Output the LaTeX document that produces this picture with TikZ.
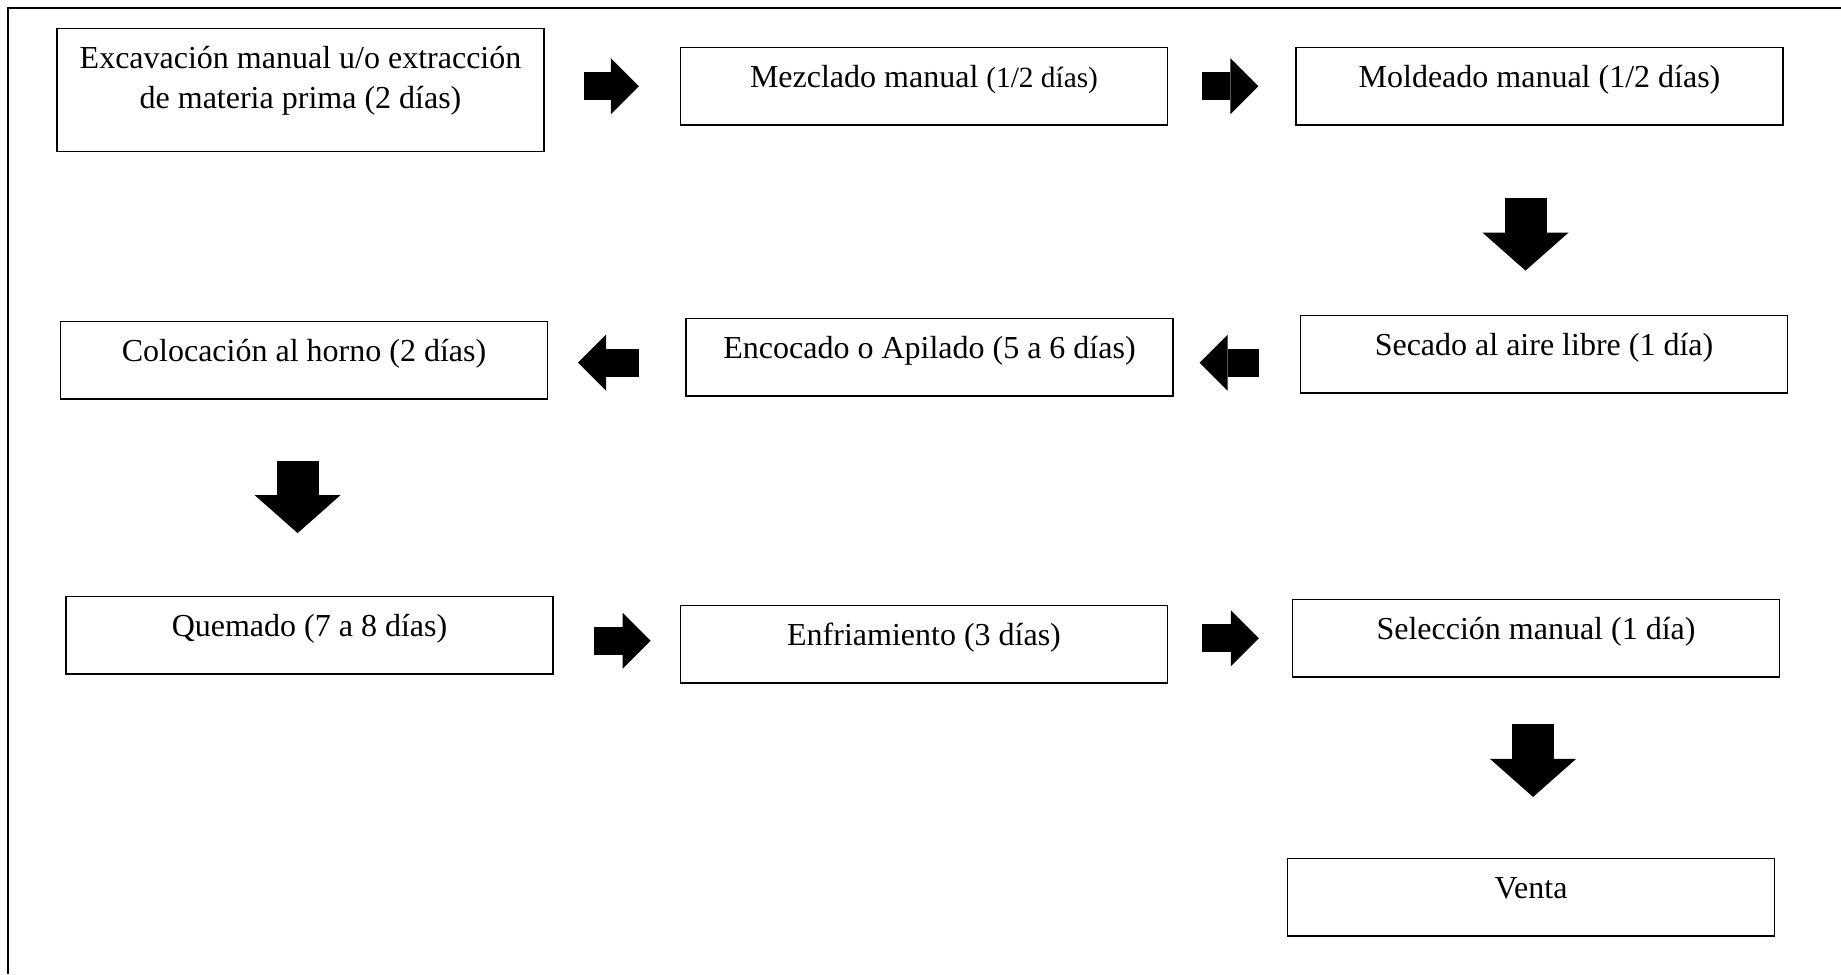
\documentclass[tikz,border=0pt]{standalone}
\usepackage{fontspec}
\setmainfont{Liberation Serif}
\usetikzlibrary{arrows.meta}

\tikzset{
    etapa/.style={draw, line width=0.45pt, anchor=north, minimum width=182.6pt,
        inner sep=0pt, text height=15pt, text depth=14pt},
    flechah/.style={line width=10.5pt, -{Triangle[length=10.5pt, width=21pt, line width=0pt]}},
    flechav/.style={line width=15.75pt, -{Triangle[length=14.25pt, width=32.25pt, line width=0pt]}},
}

\begin{document}
\begin{tikzpicture}[x=0.375pt, y=-0.375pt, font=\fontsize{12}{15}\selectfont]
        \useasboundingbox (0, 0) rectangle (1841, 974);
        \draw [line width=1.1pt] (8, 974) -- (8, 8) -- (1841, 8);

        \node [etapa, text depth=31pt] (exc) at (300.5, 28) {\begin{tabular}[t]{@{}c@{}}Excavación manual u/o extracción\\de materia prima (2 días)\end{tabular}};
        \node [etapa] (mez) at (924, 47) {Mezclado manual {\fontsize{11}{13}\selectfont(1/2 días)}};
        \node [etapa] (mol) at (1539.5, 47) {Moldeado manual (1/2 días)};

        \node [etapa] (sec) at (1544, 315) {Secado al aire libre (1 día)};
        \node [etapa] (enc) at (929.5, 318) {Encocado o Apilado (5 a 6 días)};
        \node [etapa] (col) at (304, 321) {Colocación al horno (2 días)};

        \node [etapa] (que) at (309.5, 596) {Quemado (7 a 8 días)};
        \node [etapa] (enf) at (924, 605) {Enfriamiento (3 días)};
        \node [etapa] (sel) at (1536, 599) {Selección manual (1 día)};

        \node [etapa] (ven) at (1531, 858) {Venta};

        \draw [flechah, shorten <=14.6pt, shorten >=15.4pt] (exc.east |- mez.west) -- (mez.west);
        \draw [flechah, shorten <=12.75pt, shorten >=13.9pt] (mez.east) -- (mol.west);

        \coordinate (b1) at ([xshift=-5.25pt]mol.south);
        \draw [flechav, shorten <=27.2pt, shorten >=16.65pt] (b1) -- (b1 |- sec.north);

        \draw [flechah, shorten <=15.4pt, shorten >=9.75pt] ([yshift=-3.2pt]sec.west) -- ([yshift=-3.2pt]sec.west -| enc.east);
        \draw [flechah, shorten <=17.6pt, shorten >=11.25pt] ([yshift=-2pt]enc.west) -- ([yshift=-2pt]enc.west -| col.east);

        \coordinate (b2) at ([xshift=-2.4pt]col.south);
        \draw [flechav, shorten <=22.9pt, shorten >=23.6pt] (b2) -- (b2 |- que.north);

        \draw [flechah, shorten <=15pt, shorten >=11pt] ([yshift=1.3pt]enf.west -| que.east) -- ([yshift=1.3pt]enf.west);
        \draw [flechah, shorten <=12.75pt, shorten >=12.4pt] (enf.east |- sel.west) -- (sel.west);

        \coordinate (b3) at ([xshift=-1.1pt]sel.south);
        \draw [flechav, shorten <=17.6pt, shorten >=22.9pt] (b3) -- (b3 |- ven.north);
\end{tikzpicture}
\end{document}
